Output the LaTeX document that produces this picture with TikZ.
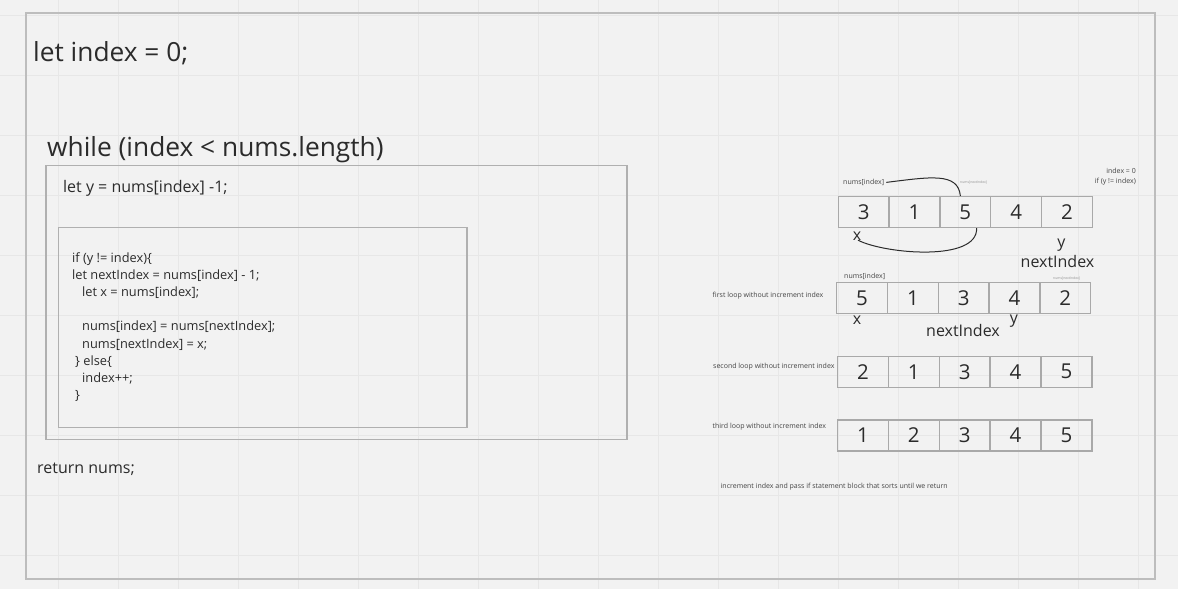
\documentclass[tikz,border=0pt]{standalone}
\usepackage{fontspec}
\setmainfont{Open Sans}
\definecolor{bg}{HTML}{F2F2F2}
\definecolor{gridc}{HTML}{E7E7E7}
\definecolor{framec}{HTML}{BDBDBD}
\definecolor{boxc}{HTML}{B0B0B0}
\definecolor{cellc}{HTML}{A9A9A9}
\definecolor{ink}{HTML}{2B2B2B}
\definecolor{smallink}{HTML}{444444}
\begin{document}
\begin{tikzpicture}[x=1pt,y=-1pt,
  txt/.style={anchor=base west, inner sep=0pt, text=ink},
  big/.style={txt, font=\fontsize{26.3}{30}\selectfont},
  mid/.style={txt, font=\fontsize{16}{19}\selectfont},
  codeline/.style={txt, font=\fontsize{12.8}{15}\selectfont},
  tinylabel/.style={txt, text=smallink, font=\fontsize{7}{8}\selectfont},
  microlabel/.style={txt, text=smallink!60, font=\fontsize{3.4}{4}\selectfont},
  cell/.style={draw=cellc, line width=1.3pt, minimum width=50.8pt, minimum height=31pt, inner sep=0pt, text=ink, font=\fontsize{20.5}{24}\selectfont},
  link/.style={draw=ink, line width=1pt},
]
\useasboundingbox (0,0) rectangle (1178,589);
\fill[bg] (0,0) rectangle (1178,589);
\foreach \gx in {58,118,...,1138} \draw[gridc, line width=1pt] (\gx,0) -- (\gx,589);
\foreach \gy in {15,75,...,555} \draw[gridc, line width=1pt] (0,\gy) -- (1178,\gy);

% frames
\draw[framec, line width=1.7pt] (26,13.3) rectangle (1155,578.7);
\draw[boxc, line width=1.2pt] (46,165.5) rectangle (627,439.5);
\draw[boxc, line width=1.2pt] (58.5,227.5) rectangle (467,427.5);

% code text
\node[big] (t1) at (33,61) {let index = 0;};
\node[big] (t2) at (47,156) {while (index < nums.length)};
\node[mid] (t3) at (63,192) {let y = nums[index] -1;};
\node[codeline] (c1) at (72,262) {if (y != index)\{};
\node[codeline] (c2) at (72,279.2) {let nextIndex = nums[index] - 1;};
\node[codeline] (c3) at (82,296.4) {let x = nums[index];};
\node[codeline] (c4) at (82,330.8) {nums[index] = nums[nextIndex];};
\node[codeline] (c5) at (82,348) {nums[nextIndex] = x;};
\node[codeline] (c6) at (75,365.2) {\} else\{};
\node[codeline] (c7) at (82,382.4) {index++;};
\node[codeline] (c8) at (75,399.6) {\}};
\node[mid] (t4) at (37,473) {return nums;};

% arrays
\foreach \v [count=\i] in {3,1,5,4,2}
  \node[cell] (a1c\i) at ({838.3+(\i-0.5)*50.8},212) {\v};
\foreach \v [count=\i] in {5,1,3,4,2}
  \node[cell] (a2c\i) at ({836.7+(\i-0.5)*50.8},297.8) {\v};
\foreach \v [count=\i] in {2,1,3,4,5}
  \node[cell] (a3c\i) at ({837.4+(\i-0.5)*50.9},371.7) {\v};
\foreach \v [count=\i] in {1,2,3,4,5}
  \node[cell] (a4c\i) at ({837.4+(\i-0.5)*50.9},435.4) {\v};

% labels around first array
\node[tinylabel] (ni1) at (843,184.5) {nums[index]};
\node[microlabel] (nn1) at (960,183.5) {nums[nextIndex]};
\node[tinylabel, anchor=base east] (ix0) at (1136,173) {index = 0};
\node[tinylabel, anchor=base east] (ify) at (1136,183.5) {if (y != index)};
\node[mid, anchor=base] (x1) at (857,240) {x};
\node[mid, anchor=base] (y1) at (1061.5,247) {y};
\node[mid, anchor=base] (nx1) at (1057.5,267.3) {nextIndex};

% labels around second array
\node[tinylabel] (ni2) at (844,278) {nums[index]};
\node[microlabel] (nn2) at (1053,279) {nums[nextIndex]};
\node[tinylabel] (fl) at (712.5,297) {first loop without increment index};
\node[mid, anchor=base] (x2) at (857,324.5) {x};
\node[mid, anchor=base] (y2) at (1014,323.5) {y};
\node[mid, anchor=base] (nx2) at (963,336.7) {nextIndex};

% other labels
\node[tinylabel] (sl) at (713,368.5) {second loop without increment index};
\node[tinylabel] (tl) at (712.5,428) {third loop without increment index};
\node[tinylabel] (inc) at (720.5,488) {increment index and pass if statement block that sorts until we return};

% connectors
\draw[link] ([xshift=2pt]ni1.east) .. controls (930,177) and (958,172) .. (a1c3.107);
\draw[link] (a1c3.305) .. controls (978,262) and (885,254) .. ([xshift=1pt]x1.south);
\end{tikzpicture}
\end{document}
